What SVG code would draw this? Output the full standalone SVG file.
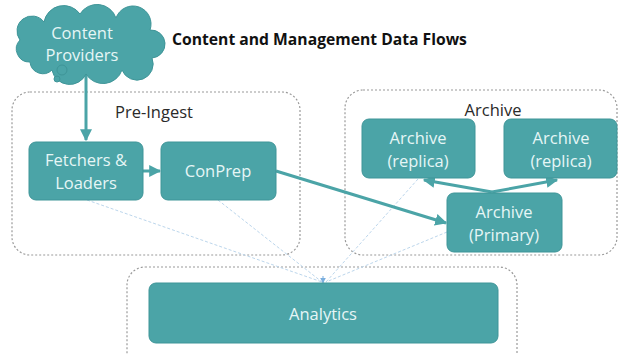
<svg xmlns="http://www.w3.org/2000/svg" width="620" height="354" viewBox="0 0 620 354">
<defs>
<style>
.box{fill:#4ba4a7;stroke:#3f9598;stroke-width:1}
.cont{fill:none;stroke:#9a9a9a;stroke-width:1.2;stroke-dasharray:2 2}
.lbl{font-family:"Open Sans","Liberation Sans",sans-serif;font-size:16.5px;fill:#e6f6f6;text-anchor:middle}
.hdr{font-family:"Open Sans","Liberation Sans",sans-serif;font-size:16.5px;fill:#2a2a2a;text-anchor:middle}
.flow{stroke:#4ba4a7;stroke-width:3;fill:none}
.thin{stroke:#bcd6ec;stroke-width:1;stroke-dasharray:3 2;fill:none}
</style>
<marker id="ah" viewBox="0 0 10 10" refX="9" refY="5" markerWidth="4" markerHeight="4" orient="auto" markerUnits="strokeWidth">
<path d="M0,0 L10,5 L0,10 z" fill="#4ba4a7"/>
</marker>
<marker id="ahs" viewBox="0 0 10 10" refX="9" refY="5" markerWidth="6" markerHeight="6" orient="auto">
<path d="M0,0 L10,5 L0,10 z" fill="#7aaede"/>
</marker>
</defs>
<rect width="620" height="354" fill="#ffffff"/>

<text x="172" y="45" font-family="'Open Sans','Liberation Sans',sans-serif" font-size="15.7" font-weight="bold" fill="#111">Content and Management Data Flows</text>

<g id="preingest">
<rect class="cont" x="12" y="92" width="288" height="163" rx="18"/>
<text class="hdr" x="154" y="118">Pre-Ingest</text>
</g>
<g id="archive">
<rect class="cont" x="345" y="90" width="272" height="165" rx="18"/>
<text class="hdr" x="493" y="116">Archive</text>
</g>
<g id="analytics-group">
<rect class="cont" x="127" y="267" width="390" height="110" rx="18"/>
</g>

<g id="connectors">
<line class="thin" x1="87" y1="200" x2="322" y2="282"/>
<line class="thin" x1="218" y1="200" x2="322" y2="282"/>
<line class="thin" x1="418" y1="179" x2="326" y2="282"/>
<line class="thin" x1="447" y1="232" x2="326" y2="282"/>
<line x1="323" y1="276" x2="323" y2="283" stroke="#7aaede" stroke-width="1" marker-end="url(#ahs)"/>
<line class="flow" x1="86" y1="72" x2="86" y2="140" marker-end="url(#ah)"/>
<line class="flow" x1="143" y1="171" x2="160" y2="171" marker-end="url(#ah)"/>
<line class="flow" x1="276" y1="171" x2="446" y2="223" marker-end="url(#ah)"/>
<line class="flow" x1="492" y1="192" x2="424" y2="180" marker-end="url(#ah)"/>
<line class="flow" x1="492" y1="192" x2="557" y2="180" marker-end="url(#ah)"/>
</g>

<g id="content-providers">
<path class="box" d="M30 62 A13 13 0 0 1 20 40 A15 15 0 0 1 44 22 A20 20 0 0 1 80 14 A20 20 0 0 1 116 18 A17 17 0 0 1 150 30 A14 14 0 0 1 152 58 A16 16 0 0 1 122 70 A20 20 0 0 1 86 74 A18 18 0 0 1 52 70 A13 13 0 0 1 30 62 Z"/>
<circle class="box" cx="62" cy="70" r="5"/>
<circle class="box" cx="57" cy="79" r="3"/>
<text class="lbl" x="82" y="39">Content</text>
<text class="lbl" x="82" y="61">Providers</text>
</g>

<g id="fetchers">
<rect class="box" x="29" y="142" width="114" height="58" rx="7"/>
<text class="lbl" x="86" y="166">Fetchers &amp;</text>
<text class="lbl" x="86" y="189">Loaders</text>
</g>
<g id="conprep">
<rect class="box" x="161" y="142" width="115" height="58" rx="7"/>
<text class="lbl" x="218" y="177">ConPrep</text>
</g>
<g id="archive-replica-1">
<rect class="box" x="362" y="119" width="113" height="59" rx="7"/>
<text class="lbl" x="418" y="144">Archive</text>
<text class="lbl" x="418" y="167">(replica)</text>
</g>
<g id="archive-replica-2">
<rect class="box" x="504" y="119" width="113" height="59" rx="7"/>
<text class="lbl" x="561" y="144">Archive</text>
<text class="lbl" x="561" y="167">(replica)</text>
</g>
<g id="archive-primary">
<rect class="box" x="447" y="193" width="115" height="59" rx="7"/>
<text class="lbl" x="504" y="218">Archive</text>
<text class="lbl" x="504" y="241">(Primary)</text>
</g>
<g id="analytics">
<rect class="box" x="149" y="283" width="349" height="60" rx="7"/>
<text class="lbl" x="323" y="320">Analytics</text>
</g>
</svg>
